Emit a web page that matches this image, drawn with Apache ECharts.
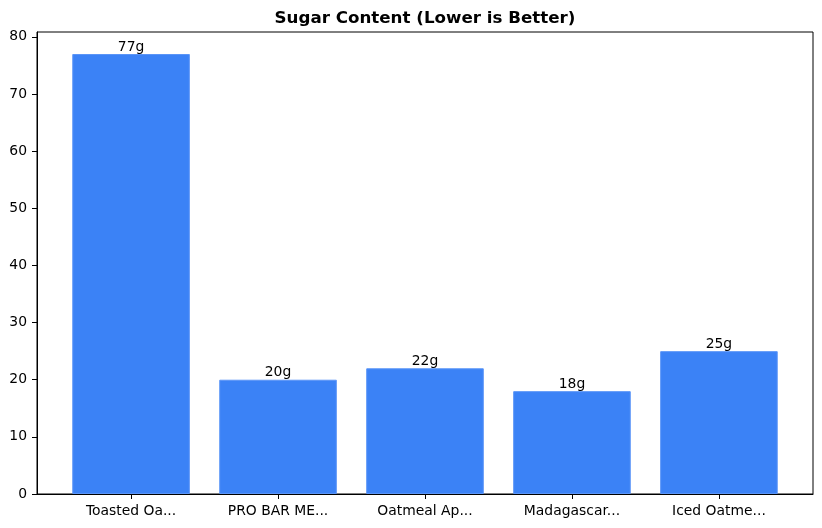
<!DOCTYPE html>
<html>
<head>
<meta charset="utf-8">
<script src="https://cdn.jsdelivr.net/npm/echarts@6/dist/echarts.min.js"></script>
<style>
html,body{margin:0;padding:0;background:#fff;}
#chart{width:822px;height:528px;}
</style>
</head>
<body>
<div id="chart"></div>
<script>
const categories = ["Toasted Oa...", "PRO BAR ME...", "Oatmeal Ap...", "Madagascar...", "Iced Oatme..."];
const sugarValues = [77, 20, 22, 18, 25];
const yTickValues = [0, 10, 20, 30, 40, 50, 60, 70, 80];
const titleText = "Sugar Content (Lower is Better)";

const W = 822, H = 528;
const gridLeft = 37, gridRight = 9, gridTop = 32, gridBottom = 34;
const xMin = -0.64, xMax = categories.length - 1 + 0.64;
const yMax = Math.max(...sugarValues) * 1.05;
const plotW = W - gridLeft - gridRight;
const barW = 0.8 * plotW / (xMax - xMin);
const FONT = "DejaVu Sans";

const chart = echarts.init(document.getElementById('chart'), null, {renderer: 'canvas'});
chart.setOption({
  animation: false,
  backgroundColor: '#fff',
  title: {
    text: titleText,
    left: gridLeft + plotW / 2,
    textAlign: 'center',
    top: 10,
    padding: 0,
    textStyle: {fontFamily: FONT, fontWeight: 'bold', fontSize: 16.7, color: '#000'}
  },
  grid: {left: gridLeft, right: gridRight, top: gridTop, bottom: gridBottom, show: true, borderColor: '#000', borderWidth: 1, backgroundColor: 'transparent'},
  xAxis: {
    type: 'value', min: xMin, max: xMax,
    splitLine: {show: false},
    axisLine: {show: true, onZero: false, lineStyle: {color: '#000', width: 1}},
    axisTick: {show: true, customValues: categories.map((c, i) => i), length: 5, lineStyle: {color: '#000'}},
    axisLabel: {
      customValues: categories.map((c, i) => i),
      formatter: v => categories[Math.round(v)] || '',
      fontFamily: FONT, fontSize: 13.9, color: '#000', margin: 10
    }
  },
  yAxis: {
    type: 'value', min: 0, max: yMax,
    splitLine: {show: false},
    axisLine: {show: true, onZero: false, lineStyle: {color: '#000', width: 1}},
    axisTick: {show: true, customValues: yTickValues, length: 5, lineStyle: {color: '#000'}},
    axisLabel: {customValues: yTickValues, fontFamily: FONT, fontSize: 13.9, color: '#000', margin: 10}
  },
  series: [{
    type: 'bar',
    data: sugarValues.map((v, i) => [i, v]),
    barWidth: barW,
    itemStyle: {color: '#3b82f6', borderColor: '#5b95f7', borderWidth: 1},
    label: {
      show: true, position: 'top', distance: 0,
      formatter: p => p.value[1] + 'g',
      fontFamily: FONT, fontSize: 13.9, color: '#000'
    }
  }]
});
</script>
</body>
</html>
